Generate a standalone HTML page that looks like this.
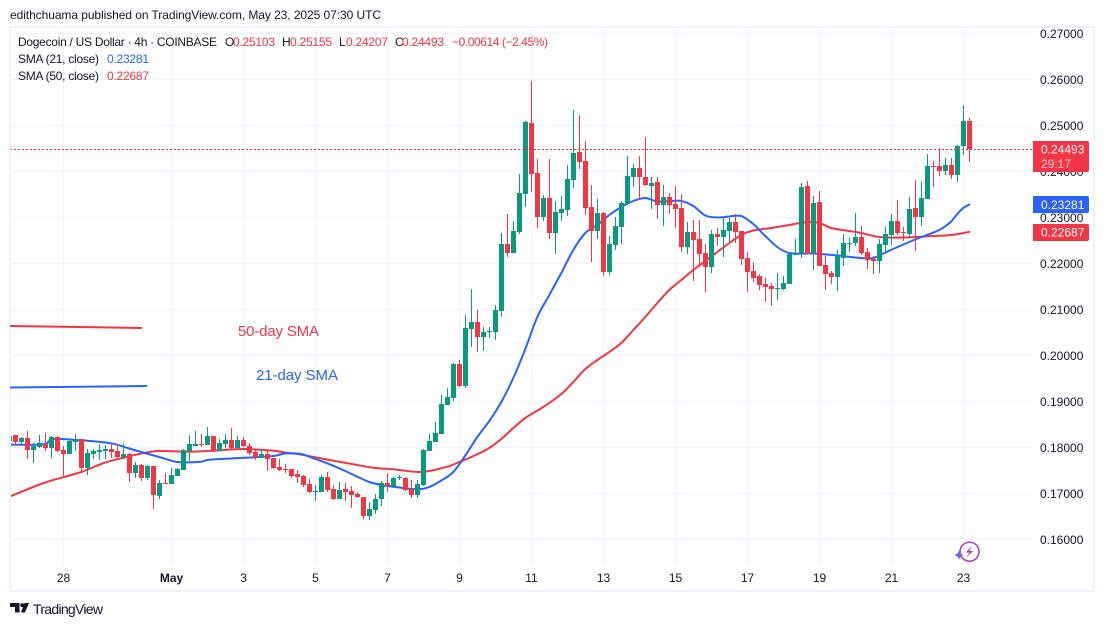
<!DOCTYPE html>
<html lang="en">
<head>
<meta charset="utf-8">
<title>Dogecoin / US Dollar 4h chart</title>
<style>
html,body{margin:0;padding:0;background:#fff;width:1104px;height:627px;overflow:hidden}
svg{display:block;font-family:"Liberation Sans",Arial,sans-serif}
</style>
</head>
<body>
<svg id="chart" width="1104" height="627" viewBox="0 0 1104 627" xmlns="http://www.w3.org/2000/svg">
  <defs><clipPath id="plot-clip"><rect x="11" y="27" width="1022" height="536"/></clipPath></defs>
  <rect x="0" y="0" width="1104" height="627" fill="#ffffff"/>
  <text x="10" y="19" font-size="12" fill="#131722" textLength="371" lengthAdjust="spacing">edithchuama published on TradingView.com, May 23, 2025 07:30 UTC</text>
  <rect x="10" y="27" width="1084" height="564" fill="none" stroke="#f0f3fa" stroke-width="2"/>
  <g id="grid"></g>
  <g>
    <line x1="10" y1="326" x2="142" y2="328" stroke="#f23645" stroke-width="2"/>
    <line x1="10" y1="387.5" x2="147" y2="386" stroke="#2962ff" stroke-width="2"/>
    <text x="238" y="336" font-size="15" fill="#f23645" textLength="81" lengthAdjust="spacing">50-day SMA</text>
    <text x="256" y="380" font-size="15" fill="#2962ff" textLength="82" lengthAdjust="spacing">21-day SMA</text>
  </g>
  <g id="plot" clip-path="url(#plot-clip)"></g>
  <g id="y-axis"></g>
  <g id="x-axis"></g>
  <g id="badges"></g>

  <g font-size="12">
    <text x="18" y="46" fill="#131722" textLength="199" lengthAdjust="spacing">Dogecoin / US Dollar · 4h · COINBASE</text>
    <text x="225" y="46" fill="#131722">O</text>
    <text x="233" y="46" fill="#f23645" textLength="42" lengthAdjust="spacing">0.25103</text>
    <text x="282" y="46" fill="#131722">H</text>
    <text x="290" y="46" fill="#f23645" textLength="42" lengthAdjust="spacing">0.25155</text>
    <text x="339" y="46" fill="#131722">L</text>
    <text x="346" y="46" fill="#f23645" textLength="42" lengthAdjust="spacing">0.24207</text>
    <text x="395" y="46" fill="#131722">C</text>
    <text x="402" y="46" fill="#f23645" textLength="42" lengthAdjust="spacing">0.24493</text>
    <text x="452" y="46" fill="#f23645" textLength="96" lengthAdjust="spacing">−0.00614 (−2.45%)</text>
    <text x="18" y="63" fill="#131722" textLength="81" lengthAdjust="spacing">SMA (21, close)</text>
    <text x="107" y="63" fill="#2962ff" textLength="42" lengthAdjust="spacing">0.23281</text>
    <text x="18" y="80" fill="#131722" textLength="81" lengthAdjust="spacing">SMA (50, close)</text>
    <text x="107" y="80" fill="#f23645" textLength="42" lengthAdjust="spacing">0.22687</text>
  </g>

  <g>
    <circle cx="969.5" cy="551.7" r="9.5" fill="#ffffff" stroke="#ab47bc" stroke-width="1.6"/>
    <path d="M972 546 L966 552.5 L969.5 552.5 L966.5 557.5 L973 551 L969.5 551 Z" fill="#ab47bc"/>
    <path d="M959 550 Q959.6 554.4 964 555 Q959.6 555.6 959 560 Q958.4 555.6 954 555 Q958.4 554.4 959 550 Z" fill="#6a5cff"/>
  </g>

  <g>
    <path d="M10 603 H19.5 V612.5 H15 V607 H10 Z M25 612.5 L29 603 H24.5 L21 612.5 Z" fill="#131722"/>
    <circle cx="22.3" cy="605.2" r="2.1" fill="#131722"/>
    <text x="33" y="614" font-size="14" fill="#131722" textLength="70" lengthAdjust="spacing">TradingView</text>
  </g>
</svg>
<script>
const opens=[.1815,.1827,.1812,.1820,.1794,.1801,.1807,.1799,.1823,.1794,.1786,.1812,.1818,.1755,.1786,.1790,.1792,.1797,.1792,.1779,.1786,.1744,.1762,.1733,.1760,.1694,.1723,.1720,.1738,.1751,.1792,.1804,.1807,.1805,.1825,.1792,.1807,.1816,.1799,.1816,.1803,.1790,.1779,.1786,
.1777,.1758,.1753,.1753,.1742,.1738,.1720,.1704,.1703,.1736,.1710,.1688,.1710,.1705,.1699,.1692,.1651,.1664,.1688,.1723,.1716,.1733,.1733,.1710,.1696,.1718,.1792,.1812,.1829,.1892,.1907,.1981,.1933,.2057,.2073,.2040,.2051,.2051,.2097,.2242,.2223,.2268,.2351,.2505,.2396,.2301,.2342,.2266,.2310,.2316,.2381,.2442,.2423,.2323,.2270,.2310,.2181,.2240,.2279,.2329,.2388,.2407,.2388,.2368,.2377,.2327,.2344,.2329,.2320,.2236,.2268,.2253,.2223,.2192,.2264,.2257,.2270,.2290,.2270,.2212,.2183,.2173,.2155,.2151,.2144,.2144,.2155,.2218,.2223,.2368,.2223,.2333,.2196,.2179,.2170,.2212,.2242,.2244,.2257,.2225,.2210,.2205,.2240,.2262,.2292,.2268,.2264,.2320,.2301,.2340,.2412,.2412,.2401,.2414,.2392,.2455,.25103];
const highs=[.1825,.1827,.1823,.1836,.1809,.1827,.1832,.1825,.1825,.1802,.1816,.1829,.1818,.1796,.1796,.1807,.1805,.1807,.1802,.1807,.1787,.1768,.1764,.1762,.1760,.1729,.1744,.1755,.1755,.1797,.1827,.1836,.1829,.1844,.1825,.1818,.1829,.1842,.1825,.1823,.1810,.1794,.1794,.1794,
.1777,.1774,.1765,.1753,.1751,.1740,.1731,.1718,.1740,.1747,.1718,.1725,.1723,.1716,.1703,.1692,.1681,.1699,.1727,.1744,.1736,.1740,.1736,.1729,.1729,.1797,.1829,.1855,.1914,.1929,.1984,.1990,.2088,.2144,.2099,.2062,.2062,.2110,.2266,.2307,.2292,.2394,.2510,.2597,.2427,.2349,.2427,.2336,.2347,.2414,.2533,.2523,.2466,.2370,.2340,.2312,.2260,.2301,.2336,.2433,.2416,.2433,.2475,.2388,.2388,.2370,.2353,.2368,.2351,.2290,.2294,.2294,.2242,.2273,.2277,.2299,.2299,.2307,.2270,.2225,.2203,.2177,.2168,.2157,.2179,.2173,.2220,.2253,.2375,.2379,.2347,.2357,.2216,.2183,.2229,.2264,.2255,.2310,.2281,.2233,.2216,.2253,.2279,.2307,.2338,.2279,.2344,.2381,.2377,.2438,.2423,.2451,.2429,.2429,.2457,.2544,.25155];
const lows=[.1815,.1806,.1805,.1775,.1767,.1799,.1793,.1777,.1791,.1738,.1786,.1792,.1744,.1741,.1775,.1773,.1775,.1777,.1773,.1775,.1725,.1733,.1727,.1729,.1666,.1688,.1720,.1720,.1738,.1751,.1770,.1803,.1801,.1805,.1791,.1792,.1799,.1794,.1799,.1801,.1783,.1773,.1777,.1749,
.1753,.1749,.1744,.1733,.1723,.1714,.1701,.1683,.1703,.1703,.1686,.1688,.1683,.1668,.1690,.1644,.1642,.1655,.1673,.1703,.1716,.1729,.1705,.1690,.1690,.1716,.1792,.1812,.1829,.1892,.1901,.1931,.1929,.2018,.2007,.2010,.2038,.2033,.2083,.2214,.2223,.2264,.2323,.2355,.2277,.2292,.2253,.2220,.2292,.2303,.2364,.2405,.2305,.2203,.2253,.2173,.2175,.2229,.2242,.2327,.2366,.2338,.2368,.2318,.2297,.2281,.2307,.2277,.2225,.2220,.2162,.2194,.2138,.2179,.2238,.2214,.2246,.2244,.2196,.2138,.2160,.2142,.2116,.2107,.2120,.2142,.2155,.2218,.2212,.2218,.2186,.2194,.2142,.2155,.2140,.2194,.2225,.2238,.2218,.2188,.2177,.2179,.2227,.2240,.2262,.2249,.2255,.2227,.2281,.2340,.2366,.2390,.2392,.2383,.2377,.2436,.24207];
const closes=[.1825,.1812,.1820,.1794,.1803,.1809,.1799,.1823,.1793,.1786,.1814,.1818,.1755,.1788,.1792,.1794,.1797,.1790,.1779,.1786,.1744,.1762,.1733,.1760,.1696,.1723,.1720,.1740,.1753,.1794,.1807,.1807,.1805,.1825,.1792,.1810,.1816,.1799,.1816,.1803,.1788,.1779,.1786,.1775,
.1755,.1751,.1751,.1738,.1736,.1718,.1703,.1705,.1736,.1707,.1688,.1707,.1703,.1696,.1692,.1651,.1666,.1688,.1723,.1716,.1733,.1735,.1707,.1696,.1720,.1794,.1814,.1831,.1894,.1910,.1981,.1933,.2060,.2073,.2040,.2051,.2053,.2099,.2242,.2223,.2270,.2353,.2507,.2394,.2301,.2342,.2266,.2312,.2318,.2383,.2440,.2420,.2320,.2270,.2310,.2181,.2242,.2281,.2331,.2390,.2407,.2388,.2370,.2375,.2327,.2344,.2327,.2318,.2236,.2268,.2251,.2220,.2192,.2264,.2257,.2273,.2290,.2268,.2210,.2181,.2168,.2153,.2149,.2144,.2146,.2157,.2220,.2223,.2366,.2220,.2331,.2194,.2177,.2170,.2216,.2244,.2244,.2257,.2223,.2207,.2205,.2242,.2264,.2292,.2266,.2266,.2318,.2301,.2342,.2412,.2410,.2401,.2414,.2392,.2455,.2510,.24493];

const sma21Bars=[0,6,7,8,12,17,20,22,25,28,32,33,37,44,46,48,49,51,53,56,58,60,62,65,68,70,72,74,76,78,80,82,84,86,88,90,92,94,96,98,100,102,104,106,108,110,112,114,116,118,120,122,124,126,128,130,134,138,142,144,146,149,152,155,157,158,159,160];
const sma21Values=[.18059,.18074,.18172,.18189,.18154,.18089,.17976,.17900,.17791,.17683,.17689,.17726,.17759,.17813,.17868,.17868,.17846,.17748,.17654,.17487,.17363,.17248,.17183,.17128,.17089,.17139,.17280,.17465,.17824,.18226,.18574,.18987,.19509,.20139,.20835,.21313,.21791,.22291,.22661,.22835,.23052,.23226,.23356,.23422,.23346,.23356,.23356,.23248,.23041,.22998,.23020,.23030,.22856,.22596,.22357,.22226,.22215,.22172,.22117,.22117,.22237,.22411,.22574,.22726,.22911,.23074,.23204,.23281];
const sma50Bars=[0,6,12,16,20,23,25,30,34,39,44,46,49,52,58,61,64,68,70,73,75,77,80,82,84,86,89,92,94,96,98,100,102,104,106,108,110,112,114,116,118,120,122,124,127,130,133,135,137,140,142,145,149,154,157,160];
const sma50Values=[.16928,.17237,.17465,.17672,.17806,.17893,.17922,.17906,.17928,.17965,.17928,.17889,.17835,.17759,.17617,.17552,.17524,.17465,.17487,.17581,.17683,.17791,.17987,.18183,.18422,.18639,.18878,.19161,.19422,.19704,.19900,.20074,.20270,.20552,.20835,.21139,.21422,.21639,.21857,.22052,.22248,.22443,.22617,.22715,.22770,.22835,.22900,.22878,.22770,.22704,.22661,.22574,.22563,.22596,.22617,.22687];

const priceTicks=[0.27,0.26,0.25,0.24,0.23,0.22,0.21,0.20,0.19,0.18,0.17,0.16];
const dateBars=[9,27,39,51,63,75,87,99,111,123,135,147,159];
const dateLabels=["28","May","3","5","7","9","11","13","15","17","19","21","23"];
const lastPrice=0.24493;
const lastSma21=0.23281;
const lastSma50=0.22687;
const countdown="29:17";

const NS="http://www.w3.org/2000/svg";
const GREEN="#089981",RED="#f23645",BLUE="#2962ff",GRID="#f0f3fa",INK="#131722";
function yOf(p){return 33.4+(0.27-p)*4600;}
function xOf(k){return 9.3+6*k;}
function mk(tag,parent){const e=document.createElementNS(NS,tag);parent.appendChild(e);return e;}
function set(e,o){for(const k in o)e.setAttribute(k,o[k]);return e;}

const grid=document.getElementById('grid');
const plot=document.getElementById('plot');
const yAxis=document.getElementById('y-axis');
const xAxis=document.getElementById('x-axis');
const badges=document.getElementById('badges');

priceTicks.forEach(function(p){
  const y=Math.round(yOf(p))+0.5;
  const l=set(mk('line',grid),{x1:11,x2:1033,y1:y,y2:y,stroke:GRID,'stroke-width':1.2});
  
  
  const t=set(mk('text',yAxis),{x:1040,y:yOf(p)+4.5,'font-size':12,fill:INK});
  
  
  t.textContent=p.toFixed(5);
});
dateBars.forEach(function(b,i){
  const x=Math.floor(xOf(b))+0.5;
  const l=set(mk('line',grid),{x1:x,x2:x,y1:27,y2:563,stroke:GRID,'stroke-width':1.2});
  
  
  const t=set(mk('text',xAxis),{x:x,y:582,'font-size':12,fill:INK,'text-anchor':'middle','font-weight':dateLabels[i]==="May"?'bold':'normal'});
  
  
  t.textContent=dateLabels[i];
});

function smaPath(bars,vals){
  const pts=bars.map(function(b,i){return [xOf(b),yOf(vals[i])];});
  let d='M'+pts[0][0].toFixed(1)+' '+pts[0][1].toFixed(1);
  for(let i=0;i<pts.length-1;i++){
    const p0=pts[Math.max(0,i-1)],p1=pts[i],p2=pts[i+1],p3=pts[Math.min(pts.length-1,i+2)];
    const s1=(p2[0]-p1[0])/Math.max(1e-6,p2[0]-p0[0]);
    const s2=(p2[0]-p1[0])/Math.max(1e-6,p3[0]-p1[0]);
    const c1x=p1[0]+(p2[0]-p0[0])*s1/3, c1y=p1[1]+(p2[1]-p0[1])*s1/3;
    const c2x=p2[0]-(p3[0]-p1[0])*s2/3, c2y=p2[1]-(p3[1]-p1[1])*s2/3;
    d+=' C'+c1x.toFixed(1)+' '+c1y.toFixed(1)+' '+c2x.toFixed(1)+' '+c2y.toFixed(1)+' '+p2[0].toFixed(1)+' '+p2[1].toFixed(1);
  }
  return d;
}
const line50=set(mk('path',plot),{d:smaPath(sma50Bars,sma50Values),fill:'none',stroke:RED,'stroke-width':2,'stroke-linejoin':'round','stroke-linecap':'round'});


const line21=set(mk('path',plot),{d:smaPath(sma21Bars,sma21Values),fill:'none',stroke:BLUE,'stroke-width':2,'stroke-linejoin':'round','stroke-linecap':'round'});



opens.forEach(function(o,k){
  const c=closes[k],h=highs[k],l=lows[k];
  const col=c>=o?GREEN:RED;
  const base=Math.floor(xOf(k));
  const g=mk('g',plot);
  
  
  const top=Math.round(yOf(Math.max(o,c)));
  const bot=Math.round(yOf(Math.min(o,c)));
  set(mk('rect',g),{x:base,y:Math.round(yOf(h)),width:1,height:Math.max(1,Math.round(yOf(l))-Math.round(yOf(h))),fill:col});
  set(mk('rect',g),{x:base-2,y:top,width:5,height:Math.max(1,bot-top),fill:col});
});

const lastLine=set(mk('line',plot),{x1:10,x2:1033,y1:Math.round(yOf(lastPrice))+0.5,y2:Math.round(yOf(lastPrice))+0.5,stroke:RED,'stroke-width':1,'stroke-dasharray':'2 2'});



function badgeShape(y,h,col){
  const r=set(mk('path',badges),{d:'M1033 '+y+' H1087 Q1089 '+y+' 1089 '+(y+2)+' V'+(y+h-2)+' Q1089 '+(y+h)+' 1087 '+(y+h)+' H1033 Z',fill:col});
  return r;
}
function badgeText(y,txt,col,w){
  const t=set(mk('text',badges),{x:1041,y:y,'font-size':12,fill:col,'font-weight':w||'normal'});
  t.textContent=txt;
  return t;
}
const mainY=Math.round(yOf(lastPrice))-8;
const b1=badgeShape(mainY,31,RED);


const b1t=badgeText(yOf(lastPrice)+5,lastPrice.toFixed(5),'#ffffff');


const b1c=badgeText(yOf(lastPrice)+19.5,countdown,'rgba(255,255,255,.72)');


const b2=badgeShape(Math.round(yOf(lastSma21))-8,17,BLUE);


const b2t=badgeText(yOf(lastSma21)+4.5,lastSma21.toFixed(5),'#ffffff');


const b3=badgeShape(Math.round(yOf(lastSma50))-8,17,RED);


const b3t=badgeText(yOf(lastSma50)+4.5,lastSma50.toFixed(5),'#ffffff');


</script>
</body>
</html>
